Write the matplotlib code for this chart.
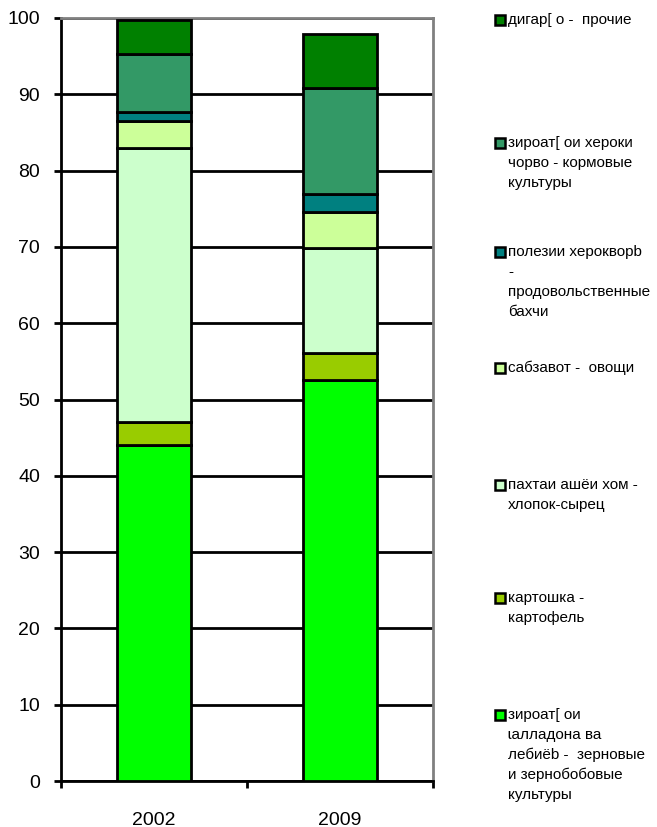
import numpy as np
import matplotlib
matplotlib.use("Agg")
import matplotlib.pyplot as plt
from matplotlib.patches import Rectangle

plt.rcParams['font.family'] = ['Liberation Sans', 'DejaVu Sans']

# data: share of crops in sown area, %
years = ['2002', '2009']
grains = [44.0, 52.6]
potato = [3.0, 3.5]
cotton = [36.0, 13.8]
vegetables = [3.5, 4.7]
melons = [1.2, 2.3]
fodder = [7.6, 13.9]
other = [4.4, 7.1]

series = [grains, potato, cotton, vegetables, melons, fodder, other]
colors = ['#00FF00', '#99CC00', '#CCFFCC', '#CCFF99', '#008080', '#339966', '#008000']
labels = [
    'зироат[ ои\nɩалладона ва\nлебиёb -  зерновые\nи зернобобовые\nкультуры',
    'картошка -\nкартофель',
    'пахтаи ашёи хом -\nхлопок-сырец',
    'сабзавот -  овощи',
    'полезии херокворb\n-\nпродовольственные\nбахчи',
    'зироат[ ои хероки\nчорво - кормовые\nкультуры',
    'дигар[ о -  прочие',
]
# legend entry first-line centre (pixels from top), bottom series first
legend_y = [715, 598, 485, 368, 252, 143, 20]

W, H = 657, 827
fig = plt.figure(figsize=(W / 100, H / 100), dpi=100)
ax = fig.add_axes([61 / W, 1 - 781 / H, (433 - 61) / W, (781 - 18) / H])

x = np.arange(len(years))
bottom = np.zeros(len(years))
for vals, col in zip(series, colors):
    ax.bar(x, vals, width=0.4, bottom=bottom, color=col, edgecolor='black',
           linewidth=2, zorder=3)
    bottom += np.array(vals)

ax.set_xlim(-0.5, 1.5)
ax.set_ylim(0, 100)
ax.set_yticks(np.arange(0, 101, 10))
ax.yaxis.grid(True, color='black', linewidth=2, zorder=0)
ax.set_axisbelow(True)

ax.set_xticks([-0.5, 0.5, 1.5])
ax.set_xticklabels([])
ax.set_xticks(x, minor=True)
ax.set_xticklabels(years, minor=True, fontsize=14)
ax.tick_params(axis='x', which='minor', length=0, pad=22)
ax.tick_params(axis='x', which='major', length=5, width=2, direction='out')
ax.tick_params(axis='y', length=5, width=2, direction='out', labelsize=14, pad=10)

for s in ['left', 'bottom']:
    ax.spines[s].set_color('black')
    ax.spines[s].set_linewidth(2)
for s in ['top', 'right']:
    ax.spines[s].set_color('#808080')
    ax.spines[s].set_linewidth(2)

# legend drawn by hand on the right side
for lab, col, yp in zip(labels, colors, legend_y):
    fy = 1 - yp / H
    fig.patches.append(Rectangle((495 / W, fy - 5 / H), 10 / W, 10 / H,
                                 transform=fig.transFigure, facecolor=col,
                                 edgecolor='black', linewidth=1.8))
    for i, line in enumerate(lab.split('\n')):
        fig.text(508 / W, 1 - (yp + i * 20) / H, line, fontsize=11,
                 va='center', ha='left')

fig.savefig('out.png', dpi=100)
